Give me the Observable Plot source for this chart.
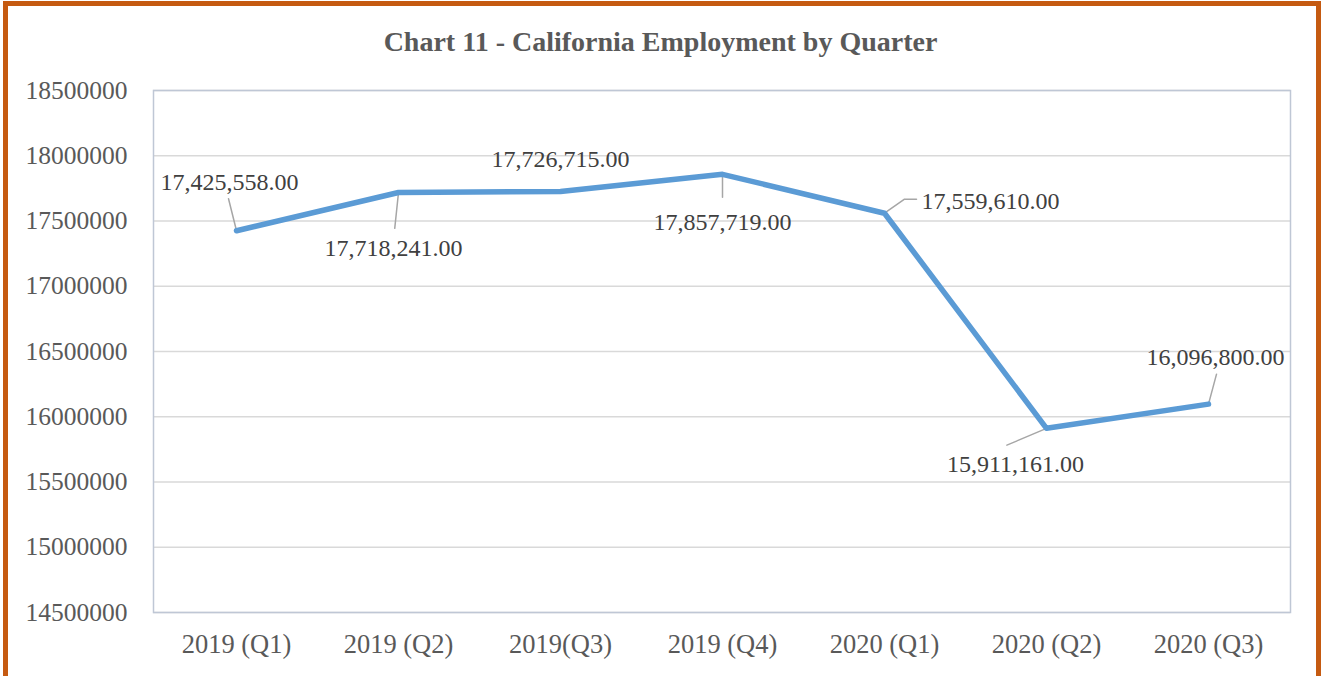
<!DOCTYPE html>
<html>
<head>
<meta charset="utf-8">
<script src="https://cdn.jsdelivr.net/npm/d3@7"></script>
<script src="https://cdn.jsdelivr.net/npm/@observablehq/plot@0.6"></script>
<style>
  html, body { margin: 0; padding: 0; background: #fff; }
  body { width: 1321px; height: 676px; overflow: hidden; position: relative; font-family: "Liberation Serif", "Times New Roman", serif; }
  #frame { position: absolute; left: 3px; top: 1px; width: 1308px; height: 672px; border: 5px solid #C55A11; }
  #title { position: absolute; left: 0; top: 0; width: 1321px; height: 70px; line-height: 84px; text-align: center; font-family: "Liberation Serif", serif; font-weight: bold; font-size: 28px; color: #595959; }
  #chart { position: absolute; left: 0; top: 70px; }
</style>
</head>
<body>
<div id="title">Chart 11 - California Employment by Quarter</div>
<div id="chart"></div>
<div id="frame"></div>
<script>
const quarters = ["2019 (Q1)", "2019 (Q2)", "2019(Q3)", "2019 (Q4)", "2020 (Q1)", "2020 (Q2)", "2020 (Q3)"];
const employment = [17425558, 17718241, 17726715, 17857719, 17559610, 15911161, 16096800];
const yTicks = [14500000, 15000000, 15500000, 16000000, 16500000, 17000000, 17500000, 18000000, 18500000];

// label placement (pixel offsets from each point) and leader lines
const labelDx = [-7, -5, 0, 0, 106, -31, 7];
const labelDy = [-48, 56, -32, 48, -12, 36, -47];
const leaderLength = [33, 36, 0, 23, 24, 43, 31];
const leaderAngle = [-14, 186, 0, 180, 55, -113, 15];

const data = quarters.map((q, i) => ({q, v: employment[i], i}));
const fmt = d3.format(",.2f");
const line = {draw(context, l) { context.moveTo(0, 0); context.lineTo(0, -l); }};

const labelMarks = data.map(d => Plot.text([d], {
  x: "q", y: "v", text: d => fmt(d.v),
  dx: labelDx[d.i], dy: labelDy[d.i],
  fontSize: 24, fill: "#404040", fontFamily: "Liberation Serif"
}));
const leaders = data.filter(d => leaderLength[d.i] > 0);

const plot = Plot.plot({
  width: 1321,
  height: 606,
  marginLeft: 153,
  marginRight: 31,
  marginTop: 20,
  marginBottom: 64,
  style: {fontFamily: "Liberation Serif", fontSize: "25px", color: "#595959", background: "transparent"},
  x: {type: "point", domain: quarters, padding: 0.5, label: null},
  y: {domain: [14500000, 18500000], label: null},
  length: {type: "identity"},
  marks: [
    Plot.gridY(yTicks, {stroke: "#D9D9D9", strokeOpacity: 1, strokeWidth: 1.3}),
    Plot.frame({stroke: "#BFC7D5", strokeWidth: 1.5}),
    Plot.axisY(yTicks, {tickSize: 0, tickPadding: 26, tickFormat: d3.format("d"), fontSize: 25.5, fill: "#595959"}),
    Plot.axisX(quarters, {tickSize: 0, tickPadding: 22, fontSize: 26.5, fill: "#595959"}),
    Plot.vector(leaders, {x: "q", y: "v", length: d => leaderLength[d.i], rotate: d => leaderAngle[d.i], anchor: "start", shape: line, stroke: "#A6A6A6", strokeWidth: 1.5}),
    Plot.vector(data.filter(d => d.i === 4), {x: "q", y: "v", length: 12, rotate: 90, dx: 20, dy: -14, anchor: "start", shape: line, stroke: "#A6A6A6", strokeWidth: 1.5}),
    Plot.line(data, {x: "q", y: "v", stroke: "#5B9BD5", strokeWidth: 5.5, strokeLinejoin: "round", strokeLinecap: "round"}),
    ...labelMarks
  ]
});
document.getElementById("chart").appendChild(plot);
</script>
</body>
</html>
